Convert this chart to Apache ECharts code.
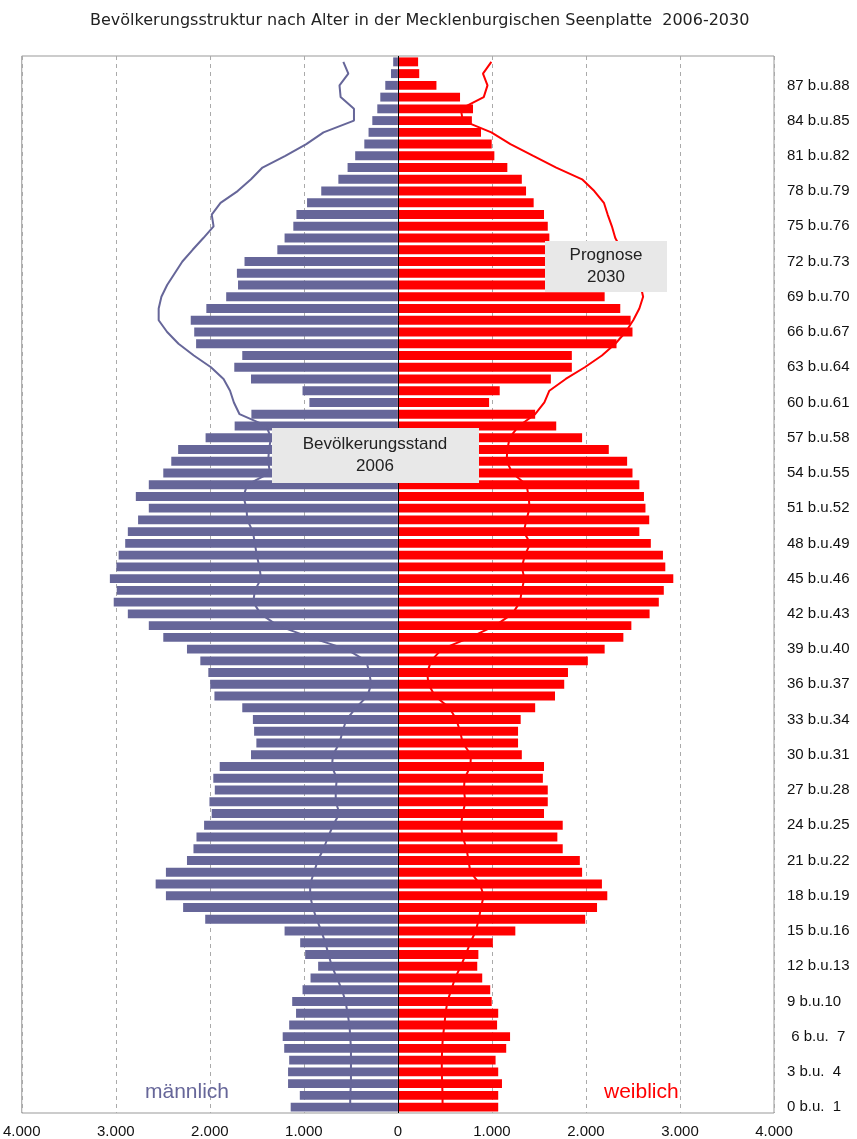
<!DOCTYPE html>
<html>
<head>
<meta charset="utf-8">
<script src="https://cdn.jsdelivr.net/npm/echarts@6.0.0/dist/echarts.min.js"></script>
<style>
  html, body { margin: 0; padding: 0; background: #fff; }
  #main { width: 857px; height: 1139px; }
</style>
</head>
<body>
<div id="main"></div>
<script>
// Altersgruppen, von unten (0 b.u. 1) nach oben (89 b.u.90)
const ageGroups = [
  "0 b.u.  1", "1 b.u.  2", "2 b.u.  3", "3 b.u.  4", "4 b.u.  5", "5 b.u.  6", " 6 b.u.  7", "7 b.u.  8", "8 b.u.  9", "9 b.u.10",
  "10 b.u.11", "11 b.u.12", "12 b.u.13", "13 b.u.14", "14 b.u.15", "15 b.u.16", "16 b.u.17", "17 b.u.18", "18 b.u.19", "19 b.u.20",
  "20 b.u.21", "21 b.u.22", "22 b.u.23", "23 b.u.24", "24 b.u.25", "25 b.u.26", "26 b.u.27", "27 b.u.28", "28 b.u.29", "29 b.u.30",
  "30 b.u.31", "31 b.u.32", "32 b.u.33", "33 b.u.34", "34 b.u.35", "35 b.u.36", "36 b.u.37", "37 b.u.38", "38 b.u.39", "39 b.u.40",
  "40 b.u.41", "41 b.u.42", "42 b.u.43", "43 b.u.44", "44 b.u.45", "45 b.u.46", "46 b.u.47", "47 b.u.48", "48 b.u.49", "49 b.u.50",
  "50 b.u.51", "51 b.u.52", "52 b.u.53", "53 b.u.54", "54 b.u.55", "55 b.u.56", "56 b.u.57", "57 b.u.58", "58 b.u.59", "59 b.u.60",
  "60 b.u.61", "61 b.u.62", "62 b.u.63", "63 b.u.64", "64 b.u.65", "65 b.u.66", "66 b.u.67", "67 b.u.68", "68 b.u.69", "69 b.u.70",
  "70 b.u.71", "71 b.u.72", "72 b.u.73", "73 b.u.74", "74 b.u.75", "75 b.u.76", "76 b.u.77", "77 b.u.78", "78 b.u.79", "79 b.u.80",
  "80 b.u.81", "81 b.u.82", "82 b.u.83", "83 b.u.84", "84 b.u.85", "85 b.u.86", "86 b.u.87", "87 b.u.88", "88 b.u.89", "89 b.u.90"
];

// Bevölkerungsstand 2006 (Balken)
const male2006 = [
  1140, 1043, 1168, 1168, 1156, 1209, 1225, 1156, 1083, 1124,
  1014, 929, 848, 986, 1039, 1205, 2049, 2284, 2467, 2576,
  2467, 2243, 2174, 2142, 2061, 1980, 2004, 1947, 1963, 1895,
  1562, 1505, 1529, 1542, 1655, 1951, 1996, 2016, 2101, 2243,
  2495, 2649, 2872, 3022, 2990, 3063, 2994, 2970, 2900, 2872,
  2763, 2649, 2787, 2649, 2495, 2410, 2337, 2045, 1736, 1558,
  941, 1014, 1562, 1740, 1655, 2146, 2166, 2203, 2037, 1826,
  1700, 1712, 1631, 1282, 1205, 1112, 1079, 966, 815, 633,
  535, 454, 357, 312, 272, 219, 187, 134, 73, 50
];
const female2006 = [
  1067, 1067, 1107, 1067, 1039, 1152, 1193, 1055, 1067, 998,
  982, 897, 844, 856, 1010, 1249, 1992, 2118, 2227, 2170,
  1959, 1935, 1753, 1696, 1753, 1554, 1594, 1594, 1542, 1554,
  1318, 1278, 1278, 1306, 1460, 1671, 1769, 1809, 2020, 2199,
  2398, 2483, 2677, 2775, 2828, 2929, 2844, 2819, 2690, 2568,
  2673, 2633, 2617, 2568, 2495, 2438, 2243, 1959, 1684, 1460,
  970, 1083, 1627, 1850, 1850, 2325, 2495, 2475, 2365, 2199,
  2100, 2150, 2050, 1750, 1611, 1594, 1554, 1444, 1363, 1318,
  1164, 1026, 998, 884, 787, 799, 661, 410, 227, 215
];

// Prognose 2030 (Linien)
const male2030 = [
  507, 507, 499, 499, 499, 499, 507, 515, 536, 556,
  596, 649, 702, 738, 771, 815, 864, 905, 933, 933,
  892, 852, 791, 742, 690, 621, 661, 661, 649, 702,
  690, 621, 588, 548, 446, 325, 284, 304, 337, 548,
  933, 1278, 1460, 1538, 1521, 1455, 1473, 1501, 1521, 1542,
  1602, 1610, 1643, 1602, 1360, 1380, 1370, 1350, 1400, 1684,
  1744, 1785, 1854, 1988, 2170, 2333, 2454, 2544, 2544, 2515,
  2454, 2373, 2292, 2183, 2069, 1960, 1980, 1886, 1704, 1562,
  1440, 1197, 974, 791, 467, 467, 609, 621, 527, 580
];
const female2030 = [
  475, 475, 471, 467, 467, 471, 479, 495, 507, 527,
  568, 609, 669, 722, 771, 828, 860, 884, 913, 872,
  771, 751, 730, 690, 669, 690, 718, 702, 710, 771,
  777, 690, 661, 621, 548, 394, 325, 312, 353, 467,
  771, 1034, 1217, 1298, 1318, 1345, 1318, 1351, 1408, 1339,
  1367, 1400, 1391, 1367, 1217, 1156, 1164, 1189, 1286, 1460,
  1558, 1611, 1785, 1988, 2170, 2312, 2422, 2503, 2568, 2608,
  2580, 2520, 2450, 2380, 2312, 2276, 2231, 2191, 2089, 1959,
  1684, 1440, 1197, 994, 690, 669, 913, 953, 905, 994
];

const xTicks = [-4000, 4000, 1000]; // min, max, interval

const maleColor = "#666699";
const femaleColor = "#ff0000";
const boxFont = "17px 'Liberation Sans', Arial, sans-serif";

function fmt(v) {
  return String(Math.abs(v)).replace(/\B(?=(\d{3})+(?!\d))/g, ".");
}

const myChart = echarts.init(document.getElementById("main"));

const option = {
  backgroundColor: "#fff",
  animation: false,
  title: {
    text: "Bevölkerungsstruktur nach Alter in der Mecklenburgischen Seenplatte  2006-2030",
    left: 85,
    top: 8,
    textStyle: {
      fontFamily: "DejaVu Sans, sans-serif",
      fontSize: 16,
      fontWeight: "normal",
      color: "#222"
    }
  },
  grid: {
    left: 20,
    right: 83,
    top: 56,
    bottom: 26,
    show: true,
    borderColor: "#999",
    borderWidth: 1
  },
  xAxis: {
    type: "value",
    min: xTicks[0],
    max: xTicks[1],
    interval: xTicks[2],
    axisLine: { show: false },
    axisTick: { show: false },
    axisLabel: {
      formatter: fmt,
      color: "#111",
      fontFamily: "Liberation Sans, Arial, sans-serif",
      fontSize: 15,
      margin: 11
    },
    splitLine: {
      show: true,
      lineStyle: { color: "#aaa", type: [4, 4] }
    }
  },
  yAxis: {
    type: "category",
    position: "right",
    data: ageGroups,
    axisLine: { show: false },
    axisTick: { show: false },
    axisLabel: {
      interval: 2,
      color: "#111",
      fontFamily: "Liberation Sans, Arial, sans-serif",
      fontSize: 15,
      margin: 13
    },
    splitLine: { show: false }
  },
  series: [
    {
      name: "männlich 2006",
      type: "bar",
      stack: "pop",
      data: male2006.map(v => -v),
      barCategoryGap: "24%",
      itemStyle: { color: maleColor },
      markLine: {
        silent: true,
        symbol: "none",
        label: { show: false },
        lineStyle: { color: "#000", type: "solid", width: 1 },
        data: [{ xAxis: 0 }]
      }
    },
    {
      name: "weiblich 2006",
      type: "bar",
      stack: "pop",
      data: female2006,
      barCategoryGap: "24%",
      itemStyle: { color: femaleColor }
    },
    {
      name: "männlich 2030",
      type: "line",
      data: male2030.map(v => -v),
      symbol: "none",
      lineStyle: { color: maleColor, width: 2 },
      z: 5
    },
    {
      name: "weiblich 2030",
      type: "line",
      data: female2030,
      symbol: "none",
      lineStyle: { color: femaleColor, width: 2 },
      z: 5
    }
  ],
  graphic: [
    {
      type: "rect",
      zlevel: 1,
      z: 100,
      shape: { x: 545, y: 241, width: 122, height: 51 },
      style: { fill: "#e8e8e8" }
    },
    {
      type: "text",
      zlevel: 1,
      z: 101,
      x: 606,
      y: 266,
      style: {
        text: "Prognose\n2030", align: "center", verticalAlign: "middle",
        font: boxFont, fill: "#222", lineHeight: 22
      }
    },
    {
      type: "rect",
      zlevel: 1,
      z: 100,
      shape: { x: 272, y: 428, width: 207, height: 55 },
      style: { fill: "#e8e8e8" }
    },
    {
      type: "text",
      zlevel: 1,
      z: 101,
      x: 375,
      y: 455,
      style: {
        text: "Bevölkerungsstand\n2006", align: "center", verticalAlign: "middle",
        font: boxFont, fill: "#222", lineHeight: 22
      }
    },
    {
      type: "text",
      zlevel: 1,
      z: 100,
      left: 145,
      top: 1082,
      style: { text: "männlich", font: "21px 'Liberation Sans', Arial, sans-serif", fill: maleColor }
    },
    {
      type: "text",
      zlevel: 1,
      z: 100,
      left: 604,
      top: 1082,
      style: { text: "weiblich", font: "21px 'Liberation Sans', Arial, sans-serif", fill: femaleColor }
    }
  ]
};

myChart.setOption(option);
</script>
</body>
</html>
